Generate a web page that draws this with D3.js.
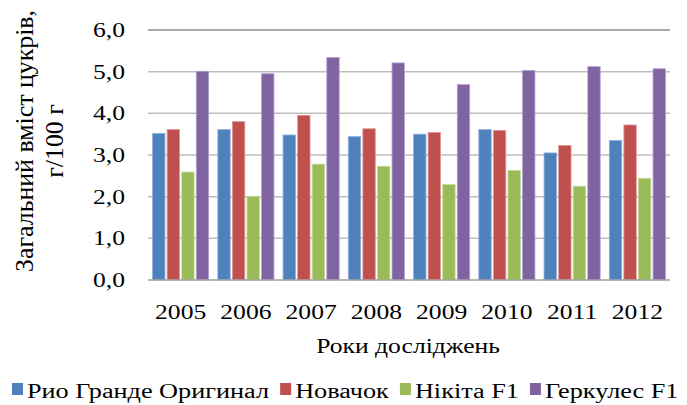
<!DOCTYPE html>
<html>
<head>
<meta charset="utf-8">
<script src="https://cdn.jsdelivr.net/npm/d3@7"></script>
<style>
  body { margin: 0; background: #fff; }
</style>
</head>
<body>
<div id="chart"></div>
<script>
const years = ["2005", "2006", "2007", "2008", "2009", "2010", "2011", "2012"];
const seriesNames = ["Рио Гранде Оригинал", "Новачок", "Нікіта F1", "Геркулес F1"];
const rioGrande = [3.52, 3.61, 3.48, 3.44, 3.50, 3.61, 3.05, 3.35];
const novachok = [3.61, 3.80, 3.95, 3.63, 3.54, 3.59, 3.23, 3.72];
const nikita = [2.59, 2.00, 2.78, 2.73, 2.29, 2.63, 2.25, 2.44];
const gerkules = [5.01, 4.95, 5.34, 5.21, 4.69, 5.03, 5.12, 5.07];
const yTicks = [0, 1, 2, 3, 4, 5, 6];
const colors = ["#4F81BD", "#C0504D", "#9BBB59", "#8064A2"];
const strokes = ["#8FB0DA", "#DE9694", "#C4DA9A", "#B3A1CC"];

const allSeries = [rioGrande, novachok, nikita, gerkules];

const FONT = "'Liberation Serif', 'Times New Roman', serif";
const SX = 1.28; // the reference text is drawn a bit wide

const W = 687, H = 405;
const margin = { top: 30, right: 17, bottom: 125, left: 148 };
const width = W - margin.left - margin.right;
const height = 280 - margin.top;

const svg = d3.select("#chart").append("svg")
  .attr("width", W).attr("height", H)
  .attr("font-family", FONT);

const g = svg.append("g")
  .attr("transform", `translate(${margin.left},${margin.top})`);

// Scales
const x0 = d3.scaleBand().domain(years).range([0, width]).paddingInner(0.14).paddingOuter(0.07);
const x1 = d3.scaleBand().domain(d3.range(4)).range([0, x0.bandwidth()]).paddingInner(0.15);
const y = d3.scaleLinear().domain([0, 6]).range([height, 0]);

// stretch a text horizontally around its anchor point
function widen(sel) {
  sel.each(function () {
    const t = d3.select(this);
    const tx = +t.attr("x") || 0;
    const ty = +t.attr("y") || 0;
    t.attr("x", 0).attr("y", 0)
      .attr("transform", `translate(${tx},${ty}) scale(${SX},1)`);
  });
}

// Gridlines
g.append("g")
  .selectAll("line")
  .data(yTicks.filter(d => d > 0))
  .join("line")
  .attr("x1", 0).attr("x2", width)
  .attr("y1", d => y(d)).attr("y2", d => y(d))
  .attr("stroke", d => d === 6 ? "#8C8C8C" : "#BEBEBE")
  .attr("stroke-width", 1.5);

// Y axis
const yAxis = d3.axisLeft(y).tickValues(yTicks)
  .tickFormat(d => d3.format(".1f")(d).replace(".", ","))
  .tickSize(0).tickPadding(23);
g.append("g").call(yAxis)
  .attr("font-family", FONT)
  .call(s => s.select(".domain").remove())
  .selectAll("text")
  .attr("font-size", 20)
  .attr("fill", "#000")
  .call(widen);

// Bars
const groups = g.append("g").selectAll("g")
  .data(years)
  .join("g")
  .attr("transform", d => `translate(${x0(d)},0)`);

groups.selectAll("rect")
  .data((d, i) => allSeries.map((s, k) => ({ k, v: s[i] })))
  .join("rect")
  .attr("x", d => x1(d.k))
  .attr("width", x1.bandwidth())
  .attr("y", d => y(d.v))
  .attr("height", d => y(0) - y(d.v))
  .attr("fill", d => colors[d.k])
  .attr("stroke", d => strokes[d.k])
  .attr("stroke-width", 0.8);

// X axis baseline
g.append("line")
  .attr("x1", 0).attr("x2", width)
  .attr("y1", y(0)).attr("y2", y(0))
  .attr("stroke", "#A0A0A0").attr("stroke-width", 1.5);

const xAxis = d3.axisBottom(x0).tickSize(0).tickPadding(0);
g.append("g")
  .attr("transform", `translate(0,${height})`)
  .call(xAxis)
  .attr("font-family", FONT)
  .call(s => s.select(".domain").remove())
  .selectAll("text")
  .attr("font-size", 20)
  .attr("fill", "#000")
  .attr("dy", null)
  .attr("y", 39)
  .call(widen);

// Axis titles
svg.append("text")
  .attr("x", margin.left + width / 2 - 1).attr("y", 353)
  .attr("text-anchor", "middle")
  .attr("font-size", 20)
  .text("Роки досліджень")
  .call(widen);

// y title: stretched the same way, so its glyphs grow across the line
const yTitle = svg.append("text")
  .attr("transform", `translate(0,141) scale(${SX},1) rotate(-90)`)
  .attr("text-anchor", "middle")
  .attr("font-size", 20);
const yLine1 = yTitle.append("tspan").attr("x", 0).attr("y", 26).text("Загальний вміст цукрів,");
const yLine2 = yTitle.append("tspan").attr("x", 0).attr("y", 49.5).text("г/100 г");
// the reference lines run a little longer than plain 20px type
const k = 262 / yLine1.node().getComputedTextLength();
[yLine1, yLine2].forEach(l => {
  l.attr("textLength", l.node().getComputedTextLength() * k)
    .attr("lengthAdjust", "spacingAndGlyphs");
});

// Legend
const legend = svg.append("g").attr("transform", "translate(12,398)");
let lx = 0;
seriesNames.forEach((name, i) => {
  const item = legend.append("g").attr("transform", `translate(${lx},0)`);
  item.append("rect")
    .attr("x", 0).attr("y", -15).attr("width", 11).attr("height", 12)
    .attr("fill", colors[i]);
  const t = item.append("text")
    .attr("x", 15).attr("y", 0)
    .attr("font-size", 20.5)
    .text(name);
  const len = t.node().getComputedTextLength() * SX;
  t.call(widen);
  lx += 15 + len + 11;
});
</script>
</body>
</html>
